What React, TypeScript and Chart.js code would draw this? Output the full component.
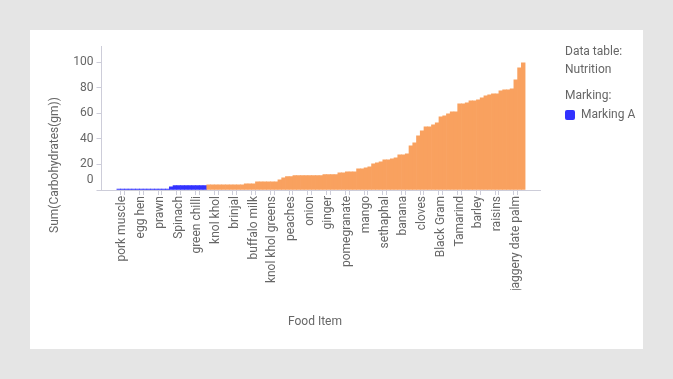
import React, { useEffect, useRef } from 'react';
import { Chart, registerables } from 'chart.js';

Chart.register(...registerables);

// ---- data ----
const foodItems: string[] = [
  'mutton', 'pork muscle', 'beef', 'chicken', 'egg duck', 'crab', 'egg hen', 'fish rohu', 'mackerel', 'sardine',
  'lobster', 'prawn', 'oyster', 'goat meat', 'cucumber', 'lettuce', 'Spinach', 'bottle gourd', 'ash gourd', 'tomato',
  'amaranth', 'green chilli', 'radish', 'cow milk', 'ridge gourd', 'bitter gourd', 'knol khol', 'cabbage', 'snake gourd', 'pumpkin',
  'cauliflower', 'brinjal', 'capsicum', 'ladies finger', 'curd', 'goat milk', 'buffalo milk', 'french beans', 'drumstick', 'watermelon',
  'carrot', 'knol khol greens', 'papaya', 'beetroot', 'orange', 'muskmelon', 'peaches', 'pineapple', 'guava', 'lemon',
  'plums', 'onion', 'pears', 'jack fruit', 'litchi', 'apple', 'ginger', 'grapes', 'garlic', 'cherries',
  'custard apple', 'pomegranate', 'green peas', 'sapota', 'potato', 'fig', 'mango', 'sweet potato', 'colocasia', 'yam',
  'tapioca', 'sethaphal', 'coconut', 'groundnut', 'cashew nut', 'almond', 'banana', 'soyabean', 'mustard seeds', 'cumin seeds',
  'coriander seeds', 'cloves', 'horse gram', 'fenugreek seeds', 'green gram', 'red gram', 'Black Gram', 'Bengal gram', 'lentil', 'cowpea',
  'rajmah', 'Tamarind', 'maize', 'jowar', 'bajra', 'ragi', 'barley', 'wheat', 'rice', 'dates',
  'vermicelli', 'raisins', 'semolina', 'sago', 'cornflakes', 'honey', 'jaggery date palm', 'jaggery cane', 'sugar',
];

const carbohydrates: number[] = [
  0.8, 0.8, 0.8, 0.8, 0.8, 0.8, 0.8, 0.8, 0.8, 0.8,
  0.8, 0.8, 0.8, 0.8, 2.5, 3.5, 3.5, 3.5, 3.5, 3.5,
  3.5, 3.5, 3.5, 3.5, 4.1, 4.1, 4.1, 4.1, 4.1, 4.1,
  4.1, 4.1, 4.1, 4.1, 4.8, 4.8, 4.8, 6.4, 6.4, 6.4,
  6.4, 6.4, 6.4, 8.0, 9.5, 10.5, 10.5, 11.3, 11.3, 11.3,
  11.3, 11.3, 11.3, 11.3, 11.3, 12.0, 12.0, 12.0, 12.0, 13.5,
  13.5, 14.2, 14.2, 14.2, 16.6, 16.6, 17.4, 18.2, 20.5, 21.3,
  22.1, 23.7, 23.7, 24.4, 25.2, 27.6, 27.6, 28.3, 34.6, 37.0,
  42.4, 46.3, 49.5, 49.5, 51.0, 52.6, 57.3, 58.1, 59.7, 61.3,
  61.3, 67.5, 67.5, 68.3, 69.9, 69.9, 70.6, 72.2, 73.8, 74.6,
  75.4, 75.4, 77.7, 78.5, 78.5, 79.3, 86.3, 95.7, 99.6,
];

// items under "Marking A"
const markedItems: string[] = [
  'mutton', 'pork muscle', 'beef', 'chicken', 'egg duck', 'crab', 'egg hen', 'fish rohu', 'mackerel', 'sardine',
  'lobster', 'prawn', 'oyster', 'goat meat', 'cucumber', 'lettuce', 'Spinach', 'bottle gourd', 'ash gourd', 'tomato',
  'amaranth', 'green chilli', 'radish', 'cow milk',
];

// category tick labels that are shown
const labelledItems: string[] = [
  'pork muscle', 'egg hen', 'prawn', 'Spinach', 'green chilli', 'knol khol', 'brinjal', 'buffalo milk',
  'knol khol greens', 'peaches', 'onion', 'ginger', 'pomegranate', 'mango', 'sethaphal', 'banana', 'cloves',
  'Black Gram', 'Tamarind', 'barley', 'raisins', 'jaggery date palm',
];

const yTickValues: number[] = [0, 20, 40, 60, 80, 100];

// ---- styles ----
const ORANGE = '#F9A15F';
const BLUE = '#3232FF';
const AXIS = '#CDCDD9';
const TEXT = '#666666';
const FONT = 'Roboto';

const isLabelled = (i: number) => i >= 0 && i < foodItems.length && labelledItems.includes(foodItems[i]);

const decorPlugin = {
  id: 'decor',
  beforeDraw(chart: any) {
    const ctx = chart.ctx;
    ctx.save();
    ctx.fillStyle = '#E5E5E5';
    ctx.fillRect(0, 0, chart.width, chart.height);
    ctx.fillStyle = '#FFFFFF';
    ctx.fillRect(30, 30, 613, 319);
    ctx.restore();
  },
  afterDraw(chart: any) {
    const ctx = chart.ctx;
    const y = chart.scales.y;
    ctx.save();
    ctx.font = `12px ${FONT}`;
    ctx.fillStyle = TEXT;
    ctx.textBaseline = 'middle';

    // zero label, lifted above the axis line
    ctx.textAlign = 'right';
    ctx.fillText(String(yTickValues[0]), y.right - 8, y.getPixelForValue(0) - 10);

    // axis titles
    ctx.textAlign = 'center';
    ctx.fillText('Food Item', 315, 322);
    ctx.save();
    ctx.translate(55, 165);
    ctx.rotate(-Math.PI / 2);
    ctx.fillText('Sum(Carbohydrates(gm))', 0, 0);
    ctx.restore();

    // legend
    ctx.textAlign = 'left';
    ctx.fillText('Data table:', 565, 52);
    ctx.fillText('Nutrition', 565, 70);
    ctx.fillText('Marking:', 565, 96);
    ctx.fillText('Marking A', 581, 115);
    ctx.fillStyle = BLUE;
    ctx.beginPath();
    if (ctx.roundRect) ctx.roundRect(565, 110, 10, 10, 2);
    else ctx.rect(565, 110, 10, 10);
    ctx.fill();
    ctx.restore();
  },
};

export default function App() {
  const ref = useRef<HTMLCanvasElement | null>(null);

  useEffect(() => {
    if (!ref.current) return;
    const chart = new Chart(ref.current, {
      type: 'bar',
      data: {
        datasets: [
          {
            label: 'Sum(Carbohydrates(gm))',
            data: carbohydrates.map((v, i) => ({ x: i, y: v })),
            backgroundColor: foodItems.map((f) => (markedItems.includes(f) ? BLUE : ORANGE)),
            borderWidth: 0,
            barPercentage: 1,
            categoryPercentage: 1,
          },
        ],
      },
      options: {
        responsive: false,
        animation: false,
        devicePixelRatio: 1,
        layout: { padding: { left: 61, top: 46, right: 133, bottom: 89 } },
        plugins: { legend: { display: false }, tooltip: { enabled: false }, title: { display: false } },
        scales: {
          x: {
            type: 'linear',
            min: -0.5 - 3.57,
            max: foodItems.length - 0.5 + 3.44,
            afterBuildTicks: (s: any) => {
              s.ticks = foodItems.map((_, i) => ({ value: i }));
            },
            afterFit: (s: any) => {
              s.height = 100;
            },
            ticks: {
              autoSkip: false,
              minRotation: 90,
              maxRotation: 90,
              padding: 1,
              color: TEXT,
              font: { family: FONT, size: 12 },
              callback: (_v: any, i: number) => (isLabelled(i) ? foodItems[i] : ''),
            },
            grid: {
              display: true,
              drawOnChartArea: false,
              drawTicks: true,
              offset: true,
              tickLength: 5,
              color: AXIS,
              tickColor: (c: any) => (isLabelled(c.index) || isLabelled(c.index - 1) ? AXIS : 'rgba(0,0,0,0)'),
            },
            border: { display: true, color: AXIS },
          },
          y: {
            type: 'linear',
            min: 0,
            max: 112.8,
            afterBuildTicks: (s: any) => {
              s.ticks = yTickValues.map((v) => ({ value: v }));
            },
            afterFit: (s: any) => {
              s.width = 40.5;
            },
            ticks: {
              padding: 3,
              color: (c: any) => (c.tick && c.tick.value === 0 ? 'rgba(0,0,0,0)' : TEXT),
              font: { family: FONT, size: 12 },
            },
            grid: { drawOnChartArea: false, tickLength: 5, color: AXIS },
            border: { display: true, color: AXIS },
          },
        },
      },
      plugins: [decorPlugin],
    } as any);
    return () => chart.destroy();
  }, []);

  return (
    <div style={{ position: 'fixed', left: 0, top: 0, width: 673, height: 379 }}>
      <canvas ref={ref} width={673} height={379} style={{ display: 'block' }} />
    </div>
  );
}
